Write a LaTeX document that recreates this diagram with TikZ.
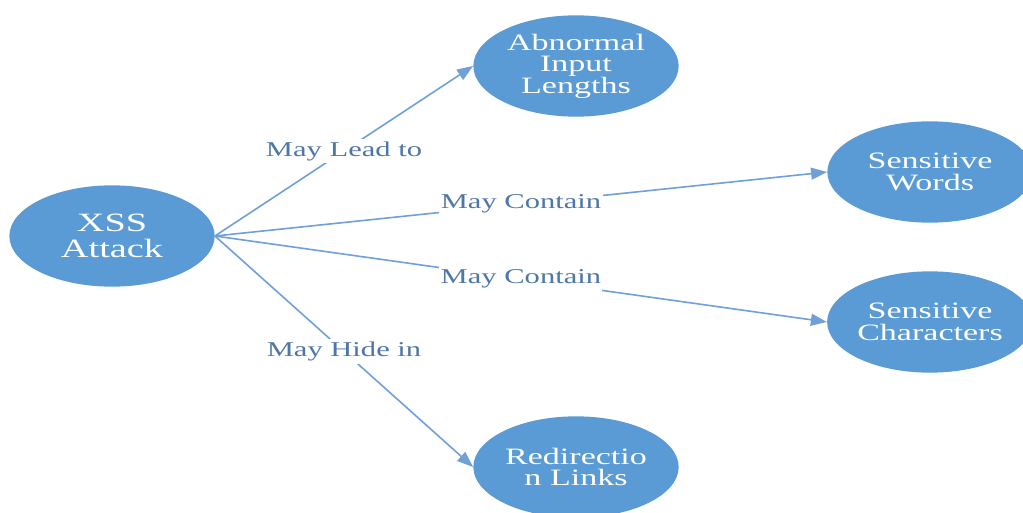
\documentclass[tikz,border=0pt]{standalone}
\usepackage{fontspec}
\setmainfont{Liberation Serif}[FakeStretch=1.45]
\usetikzlibrary{arrows.meta,shapes.geometric}
\definecolor{bubblefill}{HTML}{5B9BD5}
\definecolor{linkline}{HTML}{6FA0D8}
\definecolor{linktext}{HTML}{4E76A6}
\tikzset{
  bubble/.style={ellipse, fill=bubblefill, text=white, inner sep=0pt,
    minimum width=154pt, minimum height=76pt, align=center,
    font=\fontsize{17.6pt}{16.2pt}\selectfont},
  link/.style={draw=linkline, line width=1.2pt,
    -{Triangle[length=12pt,width=9pt]}},
  linklabel/.style={fill=white, text=linktext, inner xsep=1pt, inner ysep=2pt,
    font=\fontsize{15.8pt}{16pt}\selectfont, pos=0.5}
}
\begin{document}
\begin{tikzpicture}[x=0.75pt,y=-0.75pt]
\useasboundingbox (0,0) rectangle (1023,513);
\node[bubble, font=\fontsize{19.8pt}{19pt}\selectfont] (xss) at (112,236) {XSS\\Attack};
\node[bubble] (abn) at (576,66) {Abnormal\\Input\\Lengths};
\node[bubble] (words) at (930,172) {Sensitive\\Words};
\node[bubble] (chars) at (930,322) {Sensitive\\Characters};
\node[bubble] (redir) at (576,467) {Redirectio\\n Links};
\draw[link] (xss.east) -- node[linklabel] {May Lead to} (abn.west);
\draw[link] (xss.east) -- node[linklabel] {May Contain} (words.west);
\draw[link] (xss.east) -- node[linklabel] {May Contain} (chars.west);
\draw[link] (xss.east) -- node[linklabel] {May Hide in} (redir.west);
\end{tikzpicture}
\end{document}
